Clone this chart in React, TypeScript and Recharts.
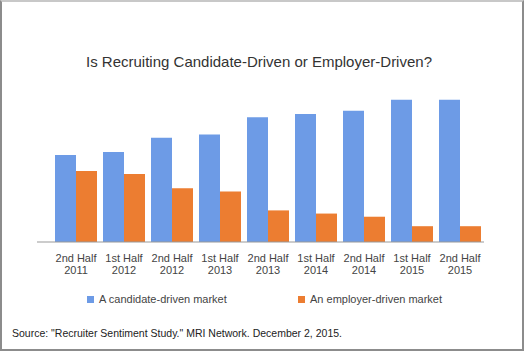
import React from "react";
import {Bar, BarChart, XAxis, YAxis} from "recharts";

const periods = ["2nd Half", "1st Half", "2nd Half", "1st Half", "2nd Half", "1st Half", "2nd Half", "1st Half", "2nd Half"];
const years = ["2011", "2012", "2012", "2013", "2013", "2014", "2014", "2015", "2015"];
const candidateDriven = [55, 57, 66, 68, 79, 81, 83, 90, 90];
const employerDriven = [45, 43, 34, 32, 20, 18, 16, 10, 10];

const seriesNames = ["A candidate-driven market", "An employer-driven market"];
const seriesColors = ["#6d9be6", "#ec7d31"];

const data = periods.map((p, i) => ({
    name: p + "|" + years[i],
    candidate: candidateDriven[i],
    employer: employerDriven[i]
}));

const font = "'Liberation Sans', Arial, sans-serif";

const TwoLineTick = (props: any) => {
    const {x, y, payload} = props;
    const [line1, line2] = String(payload.value).split("|");
    return <g transform={`translate(${x},${y})`}>
        <text textAnchor="middle" fill="#444" fontSize={11} fontFamily={font}>
            <tspan x={0} dy={12}>{line1}</tspan>
            <tspan x={0} dy={12}>{line2}</tspan>
        </text>
    </g>
}

const App: React.FC = () => {
    return <div style={{position: "absolute", left: 0, top: 0, width: 524, height: 351, background: "#fff", fontFamily: font}}>
        <div style={{position: "absolute", left: 0, top: 0, width: 520, height: 347, border: "2px solid #8c8c8c", borderTopColor: "#c8c8c8"}} />
        <div style={{position: "absolute", left: 0, width: 518, top: 52, textAlign: "center", fontSize: 15, color: "#333", lineHeight: "20px"}}>
            Is Recruiting Candidate-Driven or Employer-Driven?
        </div>
        <BarChart width={524} height={351} data={data} barGap={0} barCategoryGap={3}
                  margin={{top: 84, right: 40, left: 37, bottom: 79}}
                  style={{position: "absolute", left: 0, top: 0}}>
            <XAxis dataKey="name" height={30} tickLine={false} axisLine={{stroke: "#999"}}
                   padding={{left: 15, right: 0}} interval={0} tick={<TwoLineTick />} />
            <YAxis hide domain={[0, 100]} />
            <Bar dataKey="candidate" name={seriesNames[0]} fill={seriesColors[0]} barSize={21} isAnimationActive={false} />
            <Bar dataKey="employer" name={seriesNames[1]} fill={seriesColors[1]} barSize={21} isAnimationActive={false} />
        </BarChart>
        {seriesNames.map((n, i) => (
            <div key={n} style={{position: "absolute", left: i === 0 ? 87 : 298, top: 291, fontSize: 11, color: "#444", lineHeight: "16px", display: "flex", alignItems: "center"}}>
                <span style={{display: "inline-block", width: 7, height: 7, background: seriesColors[i], marginRight: 5}} />
                {n}
            </div>
        ))}
        <div style={{position: "absolute", left: 12, top: 326, fontSize: 10.5, color: "#222", lineHeight: "14px"}}>
            Source: "Recruiter Sentiment Study." MRI Network. December 2, 2015.
        </div>
    </div>
}

export default App;
